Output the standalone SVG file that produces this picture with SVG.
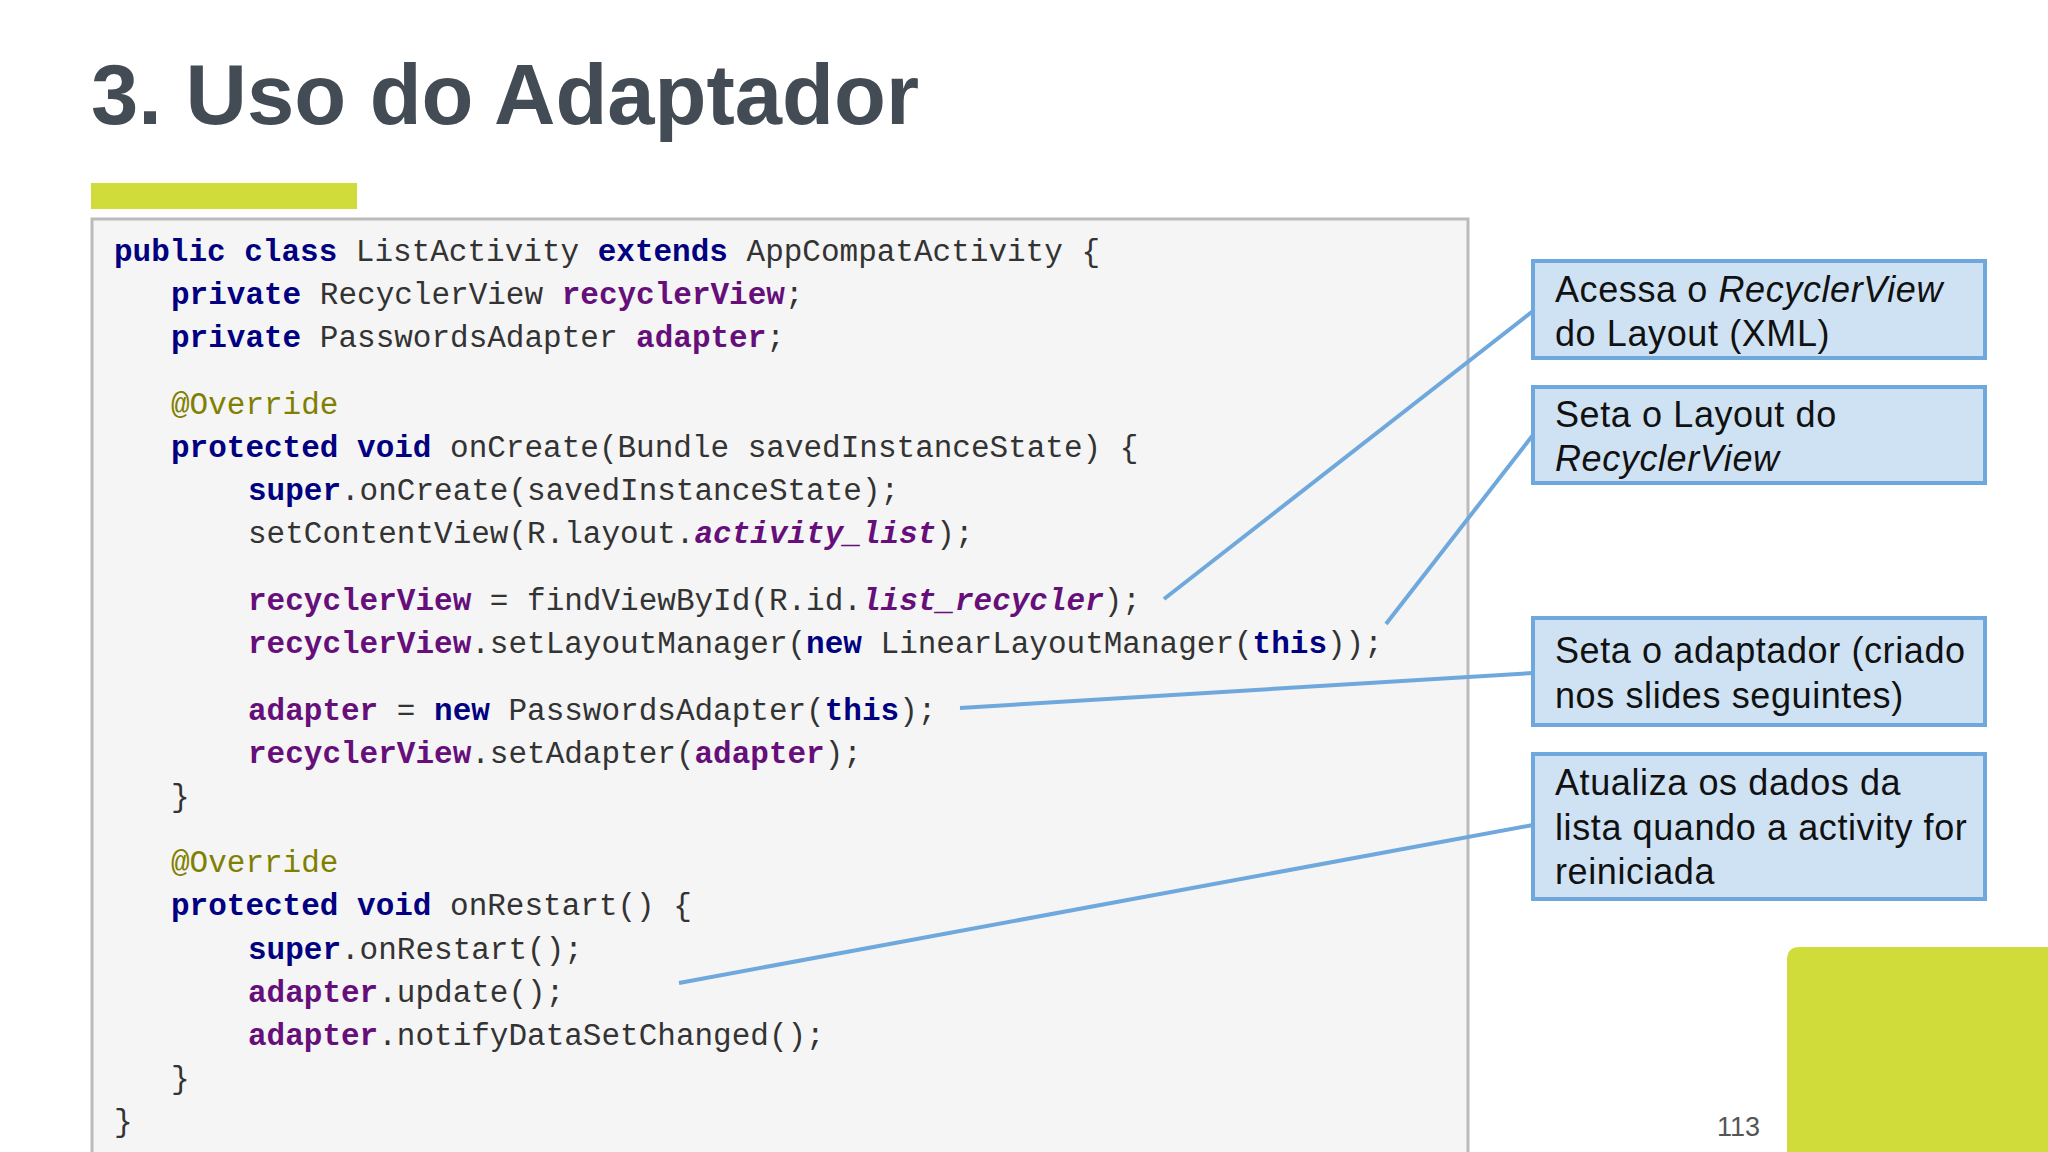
<svg xmlns="http://www.w3.org/2000/svg" width="2048" height="1152" viewBox="0 0 2048 1152">
<style>
.code{font-family:"Liberation Mono",monospace;font-size:31px;fill:#333}
.k{fill:#000080;font-weight:bold}
.f{fill:#660e7a;font-weight:bold}
.i{font-style:italic}
.a{fill:#808000}
.box{fill:#cfe2f3;stroke:#6fa8dc;stroke-width:4}
.bt{font-family:"Liberation Sans",Arial,sans-serif;font-size:36px;letter-spacing:0.6px;fill:#111}
.con{stroke:#6fa8dc;stroke-width:4;fill:none}
</style>
<rect width="2048" height="1152" fill="#fff"/>
<text x="91" y="124" font-family="Liberation Sans,Arial,sans-serif" font-weight="bold" font-size="85" fill="#434b55">3. Uso do Adaptador</text>
<rect x="91" y="183" width="266" height="26" fill="#cfdc3a"/>
<path d="M1787 1152V960q0-13 13-13H2048V1152z" fill="#cfdc3a"/>
<text x="1717" y="1136" font-family="Liberation Sans,Arial,sans-serif" font-size="27" fill="#555">113</text>
<g id="code">
<rect x="92" y="219" width="1376" height="940" fill="#f5f5f5" stroke="#bbb" stroke-width="3"/>
<text class="code" xml:space="preserve">
<tspan x="114" y="261"><tspan class="k">public class</tspan> ListActivity <tspan class="k">extends</tspan> AppCompatActivity {</tspan>
<tspan x="171" y="304"><tspan class="k">private</tspan> RecyclerView <tspan class="f">recyclerView</tspan>;</tspan>
<tspan x="171" y="347"><tspan class="k">private</tspan> PasswordsAdapter <tspan class="f">adapter</tspan>;</tspan>
<tspan x="171" y="414" class="a">@Override</tspan>
<tspan x="171" y="457"><tspan class="k">protected void</tspan> onCreate(Bundle savedInstanceState) {</tspan>
<tspan x="248" y="500"><tspan class="k">super</tspan>.onCreate(savedInstanceState);</tspan>
<tspan x="248" y="543">setContentView(R.layout.<tspan class="f i">activity_list</tspan>);</tspan>
<tspan x="248" y="610"><tspan class="f">recyclerView</tspan> = findViewById(R.id.<tspan class="f i">list_recycler</tspan>);</tspan>
<tspan x="248" y="653"><tspan class="f">recyclerView</tspan>.setLayoutManager(<tspan class="k">new</tspan> LinearLayoutManager(<tspan class="k">this</tspan>));</tspan>
<tspan x="248" y="720"><tspan class="f">adapter</tspan> = <tspan class="k">new</tspan> PasswordsAdapter(<tspan class="k">this</tspan>);</tspan>
<tspan x="248" y="763"><tspan class="f">recyclerView</tspan>.setAdapter(<tspan class="f">adapter</tspan>);</tspan>
<tspan x="171" y="806">}</tspan>
<tspan x="171" y="872" class="a">@Override</tspan>
<tspan x="171" y="915"><tspan class="k">protected void</tspan> onRestart() {</tspan>
<tspan x="248" y="959"><tspan class="k">super</tspan>.onRestart();</tspan>
<tspan x="248" y="1002"><tspan class="f">adapter</tspan>.update();</tspan>
<tspan x="248" y="1045"><tspan class="f">adapter</tspan>.notifyDataSetChanged();</tspan>
<tspan x="171" y="1088">}</tspan>
<tspan x="114" y="1131">}</tspan>
</text>
</g>
<g id="connectors">
<line class="con" x1="1164" y1="599" x2="1533" y2="311"/>
<line class="con" x1="1386" y1="624" x2="1533" y2="435"/>
<line class="con" x1="960" y1="708" x2="1533" y2="673"/>
<line class="con" x1="679" y1="983" x2="1533" y2="825"/>
</g>
<g id="n1"><rect class="box" x="1533" y="261" width="452" height="97"/>
<text class="bt" x="1555" y="302">Acessa o <tspan font-style="italic">RecyclerView</tspan></text>
<text class="bt" x="1555" y="346">do Layout (XML)</text></g>
<g id="n2"><rect class="box" x="1533" y="387" width="452" height="96"/>
<text class="bt" x="1555" y="427">Seta o Layout do</text>
<text class="bt" x="1555" y="471" font-style="italic">RecyclerView</text></g>
<g id="n3"><rect class="box" x="1533" y="618" width="452" height="107"/>
<text class="bt" x="1555" y="663">Seta o adaptador (criado</text>
<text class="bt" x="1555" y="708">nos slides seguintes)</text></g>
<g id="n4"><rect class="box" x="1533" y="754" width="452" height="145"/>
<text class="bt" x="1555" y="795">Atualiza os dados da</text>
<text class="bt" x="1555" y="840">lista quando a activity for</text>
<text class="bt" x="1555" y="884">reiniciada</text></g>
</svg>
